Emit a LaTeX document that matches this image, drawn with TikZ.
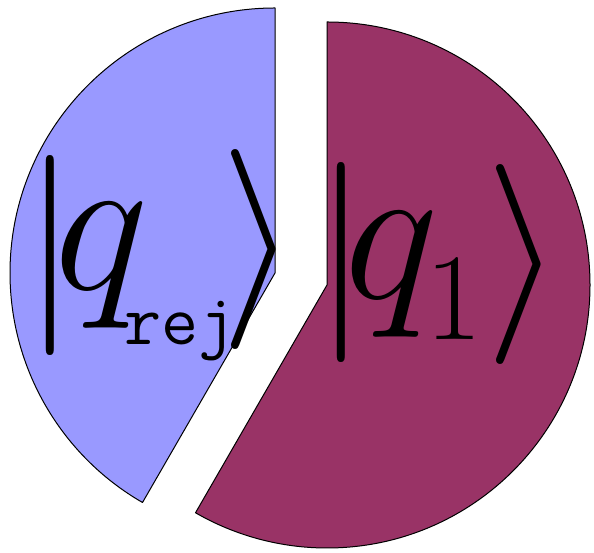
\RequirePackage{fix-cm}
\documentclass[tikz,border=0pt]{standalone}
\DeclareMathSizes{200}{200}{124}{90}
\definecolor{sliceblue}{HTML}{9999FF}
\definecolor{slicemaroon}{HTML}{993366}
\tikzset{
  slice/.style={draw=black, line width=1pt, line join=round},
  ketlabel/.style={anchor=base west, inner sep=0pt, outer sep=0pt, font=\fontsize{200}{200}\selectfont}
}
\begin{document}
\begin{tikzpicture}[x=1pt,y=1pt]
\useasboundingbox (0,0) rectangle (594,553);
% blue slice (150 degrees)
\path[slice, fill=sliceblue] (275,280) coordinate (bapex) -- (275,545) arc[start angle=90, end angle=240, radius=265] -- cycle;
% maroon slice (210 degrees)
\path[slice, fill=slicemaroon] (327,268) coordinate (mapex) -- (327,531) arc[start angle=90, end angle=-120, radius=263] -- cycle;
% labels
\node[ketlabel] (qrej) at (23,263) {$\raisebox{-16pt}{$\vert$}\kern-24pt q_{\kern-17pt\raisebox{-25pt}{\fontsize{72}{72}\selectfont\ttfamily rej}}\kern-16pt\raisebox{-10pt}{$\rangle$}$};
\node[ketlabel] (qone) at (313,254) {$\raisebox{-14pt}{$\vert$}\kern-24pt q_{\kern-6pt\raisebox{-11pt}{$\scriptstyle 1$}}\kern3pt\raisebox{-16pt}{$\rangle$}$};
\end{tikzpicture}
\end{document}
